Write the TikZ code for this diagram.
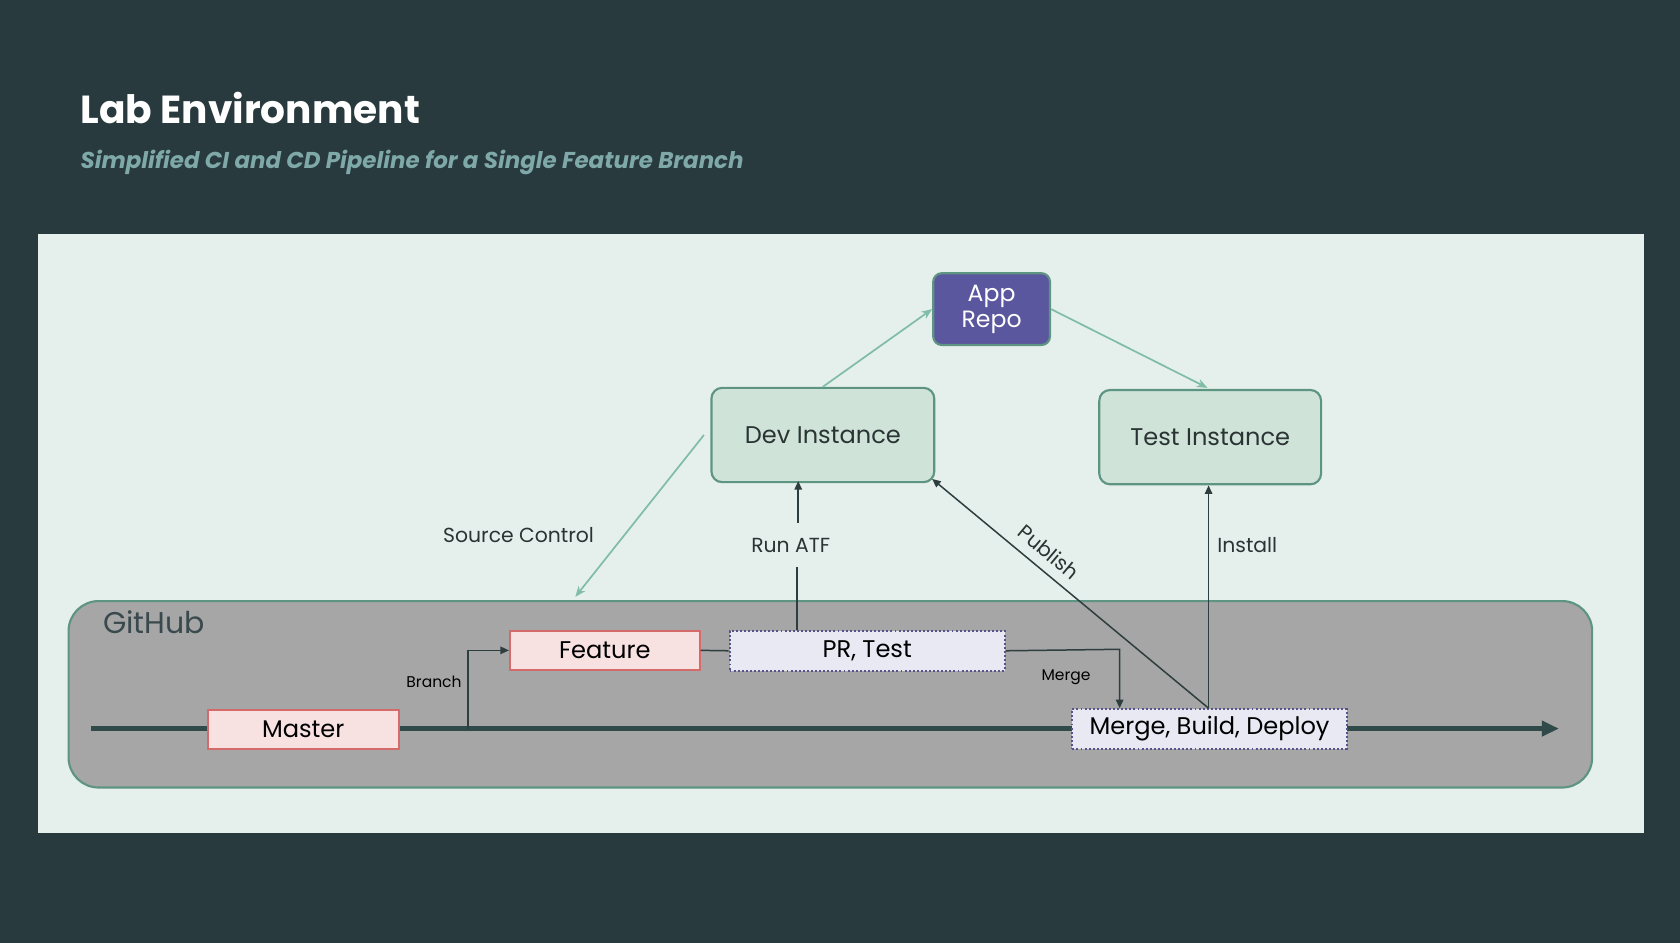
\documentclass[tikz,border=0pt]{standalone}
\usepackage{fontspec}
\setmainfont{Poppins}
\usetikzlibrary{arrows.meta}
\definecolor{bgdark}{HTML}{293A3F}
\definecolor{panel}{HTML}{E5F0ED}
\definecolor{instfill}{HTML}{CFE3D9}
\definecolor{instdraw}{HTML}{5E9482}
\definecolor{repofill}{HTML}{5B579E}
\definecolor{ghfill}{HTML}{A6A6A6}
\definecolor{pinkfill}{HTML}{F7E1E1}
\definecolor{pinkdraw}{HTML}{D56A6A}
\definecolor{lavfill}{HTML}{E9E9F4}
\definecolor{lavdraw}{HTML}{55538A}
\definecolor{mainline}{HTML}{2F4A48}
\definecolor{conn}{HTML}{2E3E3E}
\definecolor{lightarr}{HTML}{80BCA6}
\definecolor{subt}{HTML}{7FA9A8}
\definecolor{txt}{HTML}{2B3434}
\definecolor{ghtxt}{HTML}{3A494D}
\tikzset{
  inst/.style={draw=instdraw, line width=2pt, fill=instfill, rounded corners=10pt, text=txt, font=\fontsize{22.5}{26}\selectfont, anchor=north west, inner sep=0pt},
  repo/.style={draw=instdraw, line width=2pt, fill=repofill, rounded corners=8pt, text=white, font=\fontsize{22}{24}\selectfont, align=center, anchor=north west, inner sep=0pt},
  pinkbox/.style={draw=pinkdraw, line width=2pt, fill=pinkfill, text=black, font=\fontsize{22.5}{26}\selectfont, anchor=north west, inner sep=0pt},
  lavbox/.style={draw=lavdraw, line width=1.8pt, dotted, fill=lavfill, text=black, font=\fontsize{22.5}{26}\selectfont, anchor=north west, inner sep=0pt},
  darkarr/.style={draw=conn, line width=1.4pt, -{Triangle[length=8pt,width=7pt]}},
  darkln/.style={draw=conn, line width=1.4pt},
  lightconn/.style={draw=lightarr, line width=1.6pt, -{Stealth[length=10pt,width=8pt]}},
  lbl/.style={text=txt, font=\fontsize{19}{22}\selectfont, inner sep=1pt},
  smalllbl/.style={text=black, font=\fontsize{14.5}{17}\selectfont, inner sep=1pt},
}
\begin{document}
\begin{tikzpicture}[x=1pt,y=-1pt]
\useasboundingbox (0,0) rectangle (1568,880);
\fill[bgdark] (0,0) rectangle (1568,880);
\fill[panel] (35,218) rectangle (1534,777);
% titles
\node[anchor=base west, text=white, font=\fontsize{36.5}{42}\selectfont\bfseries, inner sep=0pt] (title) at (75,115) {Lab Environment};
\node[anchor=base west, text=subt, font=\fontsize{21.4}{25}\selectfont\bfseries\itshape, inner sep=0pt] (subtitle) at (75,157) {Simplified CI and CD Pipeline for a Single Feature Branch};
% GitHub container
\node[draw=instdraw, line width=2pt, fill=ghfill, rounded corners=28pt, minimum width=1422pt, minimum height=174pt, anchor=north west, inner sep=0pt] (gh) at (63,560) {};
\node[anchor=west, text=ghtxt, font=\fontsize{28}{32}\selectfont, inner sep=0pt] (ghlbl) at (96,581) {GitHub};
% main line
\coordinate (mstart) at (85,680);
\coordinate (mend) at (1455,680);
\draw[mainline, line width=4pt, -{Triangle[length=16pt,width=14pt]}] (mstart) -- (mend);
% instances
\node[inst, minimum width=208pt, minimum height=88pt] (dev) at (663,361) {Dev Instance};
\node[inst, minimum width=207pt, minimum height=88pt] (test) at (1025,363) {Test Instance};
\node[repo, minimum width=109pt, minimum height=67pt] (repo) at (870,254) {App\\Repo};
% github boxes
\node[pinkbox, minimum width=178pt, minimum height=36pt] (master) at (193,662) {Master};
\node[pinkbox, minimum width=177pt, minimum height=36pt] (feature) at (475,588) {Feature};
\node[lavbox, minimum width=257pt, minimum height=37pt] (pr) at (680,588) {PR, Test};
\node[lavbox, minimum width=256pt, minimum height=37pt] (mbd) at (1000,661) {Merge, Build, Deploy};
% branch
\coordinate (br) at (437,680);
\draw[darkarr] (br) |- (feature.west);
\node[smalllbl, anchor=east] (branchlbl) at (432,636) {Branch};
\draw[darkln] (feature.east) -- (pr.west);
% merge
\coordinate (mg) at (1045,606);
\draw[darkarr] (pr.east) -- (mg) -- (mg |- mbd.north);
\node[smalllbl, anchor=center] (mergelbl) at (995,632) {Merge};
% run atf
\coordinate (atfbot) at (744,588);
\coordinate (atftop) at (745,449);
\node[lbl] (runatf) at (738,509) {Run ATF};
\draw[darkln] (atfbot) -- (atfbot |- 0,529);
\draw[darkarr] (atftop |- 0,488) -- (atftop);
% publish
\coordinate (mbdtop) at (1128,661);
\coordinate (devcorner) at (870,447);
\draw[darkarr] (mbdtop) -- (devcorner);
\node[lbl, rotate=-40] (publbl) at (979,515) {Publish};
% install
\draw[darkarr] (mbdtop) -- (test.south -| mbdtop);
\node[lbl, anchor=west] (instlbl) at (1135,509) {Install};
% source control
\coordinate (scstart) at (657,406);
\coordinate (scend) at (537,557);
\draw[lightconn] (scstart) -- (scend);
\node[lbl] (sclbl) at (484,499) {Source Control};
% repo connectors
\coordinate (devtop) at (768,361);
\coordinate (testtop) at (1127,362);
\draw[lightconn] (devtop) -- (repo.west);
\draw[lightconn] (repo.east) -- (testtop);
\end{tikzpicture}
\end{document}
